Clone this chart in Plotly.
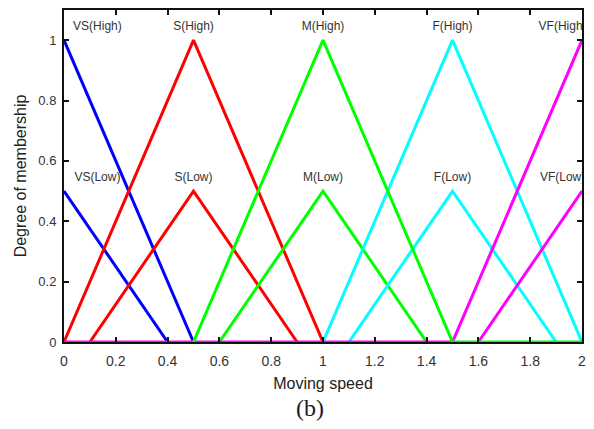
import plotly.graph_objects as go

# Membership functions (x points, y points) for each label
mf_names = ["VS(High)", "VS(Low)", "S(High)", "S(Low)", "M(High)", "M(Low)",
            "F(High)", "F(Low)", "VF(High)", "VF(Low)"]
mf_x = [
    [0, 0.5],
    [0, 0.4],
    [0, 0.5, 1.0],
    [0.1, 0.5, 0.9],
    [0.5, 1.0, 1.5, 2.0],
    [0.6, 1.0, 1.4],
    [1.0, 1.5, 2.0],
    [1.1, 1.5, 1.9],
    [0, 1.5, 2.0],
    [1.6, 2.0],
]
mf_y = [
    [1, 0],
    [0.5, 0],
    [0, 1, 0],
    [0, 0.5, 0],
    [0, 1, 0, 0],
    [0, 0.5, 0],
    [0, 1, 0],
    [0, 0.5, 0],
    [0, 0, 1],
    [0, 0.5],
]
mf_colors = ["#0000ff", "#0000ff", "#ff0000", "#ff0000", "#00ff00", "#00ff00",
             "#00ffff", "#00ffff", "#ff00ff", "#ff00ff"]
# drawing order so the baseline colours match
draw_order = [0, 1, 2, 3, 5, 6, 7, 9, 8, 4]

label_x = [0.129, 0.129, 0.5, 0.5, 1.0, 1.0, 1.5, 1.5, 1.925, 1.925]
label_y = [1.045, 0.545, 1.045, 0.545, 1.045, 0.545, 1.045, 0.545, 1.045, 0.545]

x_ticks = [0, 0.2, 0.4, 0.6, 0.8, 1, 1.2, 1.4, 1.6, 1.8, 2]
x_tick_text = ["0", "0.2", "0.4", "0.6", "0.8", "1", "1.2", "1.4", "1.6", "1.8", "2"]
y_ticks = [0, 0.2, 0.4, 0.6, 0.8, 1]
y_tick_text = ["0", "0.2", "0.4", "0.6", "0.8", "1"]

fig = go.Figure()
for i in draw_order:
    fig.add_trace(go.Scatter(x=mf_x[i], y=mf_y[i], mode="lines",
                             line=dict(color=mf_colors[i], width=3),
                             showlegend=False, hoverinfo="skip"))

fig.add_trace(go.Scatter(x=label_x, y=label_y, text=mf_names, mode="text",
                         textposition="middle center", cliponaxis=True,
                         textfont=dict(family="Arial, Liberation Sans", size=12, color="#333333"),
                         showlegend=False, hoverinfo="skip"))

fig.add_annotation(x=0.5, y=0, xref="paper", yref="paper", yshift=-66,
                   text="(b)", showarrow=False,
                   font=dict(family="Liberation Serif, Times New Roman", size=24, color="#1a1a2e"),
                   xanchor="center", yanchor="middle", xshift=-13)

fig.update_layout(
    width=594, height=429,
    margin=dict(l=64, r=9, t=8, b=87),
    paper_bgcolor="white", plot_bgcolor="white",
    font=dict(family="Arial, Liberation Sans", color="#333333"),
)
fig.update_xaxes(range=[0, 2], tickvals=x_ticks, ticktext=x_tick_text,
                 ticks="inside", ticklen=5, tickwidth=1.5, tickcolor="#111111",
                 showline=True, linecolor="#111111", linewidth=2, mirror="ticks",
                 showgrid=False, zeroline=False, ticklabelstandoff=5,
                 tickfont=dict(size=14, color="#333333"),
                 title=dict(text="Moving speed", font=dict(size=16, color="#222222"), standoff=10))
fig.update_yaxes(range=[0, 1.1], tickvals=y_ticks, ticktext=y_tick_text,
                 ticks="inside", ticklen=5, tickwidth=1.5, tickcolor="#111111",
                 showline=True, linecolor="#111111", linewidth=2, mirror="ticks",
                 showgrid=False, zeroline=False, ticklabelstandoff=3,
                 tickfont=dict(size=13, color="#333333"),
                 title=dict(text="Degree of membership", font=dict(size=16, color="#222222"), standoff=8))

fig.write_html("out.html")
